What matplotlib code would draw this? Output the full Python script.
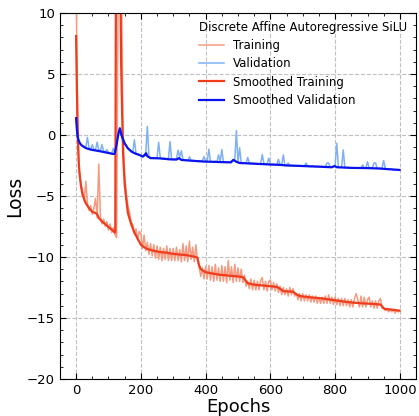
import matplotlib
matplotlib.use("Agg")
import matplotlib.pyplot as plt
from matplotlib.ticker import MultipleLocator

# raw curves, every 5 epochs (0 .. 995)
raw_epochs = list(range(0, 1000, 5))

train_raw = [
    13, 0.5, -3.0, -4.0, -4.6, -5.4, -3.8, -5.6, -6.2, -5.8, -6.5, -6.0, -5.2, -6.8, -2.4, -6.6, -7.3, -6.9, -7.5, -7.1,
    -7.8, -7.3, -8.0, -7.6, -8.2, -8.4, 13, 13, 13, 0.0, -3.3, -4.8, -5.8, -6.3, -7.2, -7.3, -8.1, -7.7, -8.6, -7.9,
    -8.1, -9.3, -8.2, -9.5, -8.8, -9.8, -8.9, -9.9, -9.0, -10.1, -9.1, -10.2, -9.2, -10.3, -9.3, -10.2, -9.1, -10.3, -9.3, -10.3,
    -9.3, -10.3, -9.2, -10.3, -9.4, -10.4, -8.9, -10.3, -9.1, -10.4, -8.7, -10.2, -9.2, -10.4, -9.0, -10.3, -10.8, -11.6, -10.9, -11.8,
    -10.8, -11.8, -10.7, -11.9, -10.8, -12.0, -10.6, -11.9, -10.9, -12.0, -10.7, -12.0, -10.8, -12.1, -10.3, -11.9, -10.8, -12.1, -10.6, -12.0,
    -10.9, -12.0, -11.0, -12.1, -11.5, -12.4, -12.0, -12.6, -11.8, -12.7, -11.9, -12.7, -12.0, -12.7, -11.9, -11.7, -12.7, -12.0, -12.8, -12.0,
    -11.9, -12.7, -12.1, -12.8, -12.2, -12.9, -12.4, -13.1, -12.5, -13.1, -12.6, -13.2, -12.5, -13.1, -12.6, -13.2, -13.0, -13.5, -13.0, -13.6,
    -13.0, -13.6, -13.1, -13.6, -13.1, -13.7, -13.2, -13.7, -13.2, -13.8, -13.3, -13.8, -13.3, -13.8, -13.2, -13.8, -13.1, -13.8, -13.3, -13.9,
    -13.3, -13.9, -13.4, -14.0, -13.4, -14.0, -13.4, -14.0, -13.5, -14.1, -13.5, -14.1, -13.4, -13.0, -13.5, -14.1, -13.2, -14.1, -13.3, -14.1,
    -13.5, -13.3, -14.1, -13.6, -14.2, -13.6, -14.2, -13.6, -13.4, -14.2, -14.2, -14.4, -14.3, -14.5, -14.3, -14.5, -14.3, -14.6, -14.4, -14.5,
]

val_raw = [
    1.4, -0.2, -0.6, -0.8, -0.9, -0.95, -1.0, -0.2, -1.1, -1.15, -0.8, -1.2, -1.2, -0.6, -1.25, -1.3, -0.8, -1.35, -1.4, -1.2,
    -1.45, -1.5, -1.5, -1.1, -1.5, -0.7, 0.1, 0.5, -0.1, -0.4, -0.7, -0.9, -1.1, -1.2, -1.3, -1.4, -0.4, -1.5, -1.55, -1.6,
    -1.7, -1.75, -1.6, -1.5, 0.7, -1.8, -1.85, -1.9, -1.85, -1.9, -1.9, -0.6, -1.9, -1.95, -1.9, -1.95, -1.95, -2.0, -0.55, -2.0,
    -2.0, -2.0, -1.95, -1.25, -1.8, -1.3, -2.0, -2.05, -2.05, -2.1, -1.8, -2.1, -2.1, -2.1, -2.15, -2.15, -2.1, -2.15, -2.1, -1.78,
    -2.15, -2.2, -1.17, -2.15, -2.2, -2.2, -2.15, -2.2, -1.63, -2.2, -1.2, -2.2, -2.2, -2.25, -2.2, -2.25, -2.15, -2.0, -2.1, 0.36,
    -2.25, -1.05, -2.3, -2.3, -2.3, -2.3, -1.85, -2.3, -2.35, -2.3, -2.35, -2.35, -2.35, -2.4, -2.35, -1.6, -2.35, -2.4, -2.4, -1.9,
    -2.4, -2.45, -2.4, -2.45, -2.45, -2.0, -2.45, -2.45, -1.64, -2.5, -2.5, -2.3, -2.5, -2.5, -2.5, -2.55, -2.5, -2.55, -2.5, -2.55,
    -2.55, -2.55, -2.3, -2.55, -2.6, -2.6, -2.55, -2.6, -2.6, -2.6, -2.6, -2.6, -2.6, -2.65, -2.6, -2.3, -2.3, -2.65, -2.6, -2.6,
    -2.5, -0.68, -2.6, -2.65, -2.65, -1.23, -2.65, -2.7, -2.65, -2.7, -2.7, -2.7, -2.7, -2.7, -2.7, -2.7, -2.7, -2.46, -2.7, -2.7,
    -2.2, -2.7, -2.75, -2.7, -2.3, -2.3, -2.75, -2.75, -2.75, -2.7, -2.1, -2.8, -2.8, -2.8, -2.8, -2.8, -2.85, -2.85, -2.85, -2.85,
]

# smoothed curves
train_s_epochs = [0, 2, 4, 6, 8, 10, 15, 20, 30, 40, 50, 60, 65, 70, 80, 90, 100, 110, 120, 121,
                  123, 137, 139, 142, 145, 150, 155, 160, 170, 180, 190, 200, 210, 220, 240, 260, 280, 300, 320, 340,
                  360, 370, 375, 380, 385, 400, 420, 440, 460, 480, 500, 515, 520, 530, 545, 560, 580, 600, 620, 630,
                  640, 670, 680, 690, 720, 760, 800, 840, 880, 920, 940, 945, 952, 970, 999]
train_smooth = [8.1, 4.5, 1.5, -0.8, -2.2, -3.0, -4.2, -4.9, -5.6, -6.0, -6.3, -6.4, -6.5, -6.8, -7.1, -7.3, -7.55, -7.75, -8.0, -8.0,
                12, 12, 6, 2, -1.5, -4.0, -5.3, -6.4, -7.3, -8.0, -8.5, -9.0, -9.2, -9.35, -9.5, -9.6, -9.65, -9.75, -9.8, -9.85,
                -9.95, -10.0, -10.1, -10.7, -11.0, -11.25, -11.35, -11.45, -11.5, -11.55, -11.6, -11.65, -11.8, -12.15, -12.25, -12.3, -12.35, -12.4, -12.45, -12.6,
                -12.8, -12.85, -13.05, -13.2, -13.3, -13.4, -13.55, -13.7, -13.8, -13.85, -13.9, -14.05, -14.25, -14.3, -14.4]

val_s_epochs = [0, 2, 4, 7, 12, 17, 25, 32, 45, 55, 70, 85, 100, 114, 119, 125, 130, 135, 140, 145,
                150, 160, 171, 185, 196, 206, 212, 216, 220, 230, 258, 289, 310, 318, 325, 350, 392, 440, 478, 486,
                495, 505, 597, 628, 648, 700, 750, 790, 798, 806, 850, 900, 936, 960, 999]
val_smooth = [1.37, 0.6, 0.0, -0.4, -0.7, -0.85, -1.0, -1.1, -1.2, -1.25, -1.32, -1.4, -1.48, -1.56, -1.55, -0.8, 0.0, 0.55, 0.0, -0.35,
              -0.7, -1.1, -1.37, -1.55, -1.65, -1.78, -1.65, -1.5, -1.75, -1.9, -1.92, -2.0, -2.02, -1.9, -2.05, -2.1, -2.18, -2.22, -2.25, -2.05,
              -2.2, -2.3, -2.42, -2.45, -2.5, -2.55, -2.6, -2.65, -2.55, -2.65, -2.7, -2.72, -2.75, -2.8, -2.87]

fig = plt.figure(figsize=(4.19, 4.16), dpi=100)
ax = fig.add_axes([0.143, 0.089, 0.85, 0.88])

ax.plot(raw_epochs, train_raw, color="#f59a80", lw=1.1, label="Training")
ax.plot(raw_epochs, val_raw, color="#7fb0f5", lw=1.1, label="Validation")
ax.plot(train_s_epochs, train_smooth, color="#f03c1c", lw=1.6, label="Smoothed Training")
ax.plot(val_s_epochs, val_smooth, color="#0a12ee", lw=1.6, label="Smoothed Validation")

ax.set_xlim(-50, 1050)
ax.set_ylim(-20, 10)
ax.xaxis.set_major_locator(MultipleLocator(200))
ax.xaxis.set_minor_locator(MultipleLocator(50))
ax.yaxis.set_major_locator(MultipleLocator(5))
ax.yaxis.set_minor_locator(MultipleLocator(1))
ax.tick_params(which="both", direction="in", top=True, right=True, labelsize=9.5)
ax.tick_params(which="major", length=4)
ax.tick_params(which="minor", length=2)
ax.grid(True, which="major", linestyle="--", color="#c0c0c0", lw=0.8)

ax.set_xlabel("Epochs", fontsize=13, labelpad=1)
ax.set_ylabel("Loss", fontsize=13.5, labelpad=2)

ax.legend(title="Discrete Affine Autoregressive SiLU", loc="upper right",
          bbox_to_anchor=(1.0, 1.003), frameon=False, fontsize=8.5, title_fontsize=8.5,
          alignment="left", handlelength=2.1, labelspacing=0.45, borderpad=0.25)

fig.savefig("out.png", dpi=100)
